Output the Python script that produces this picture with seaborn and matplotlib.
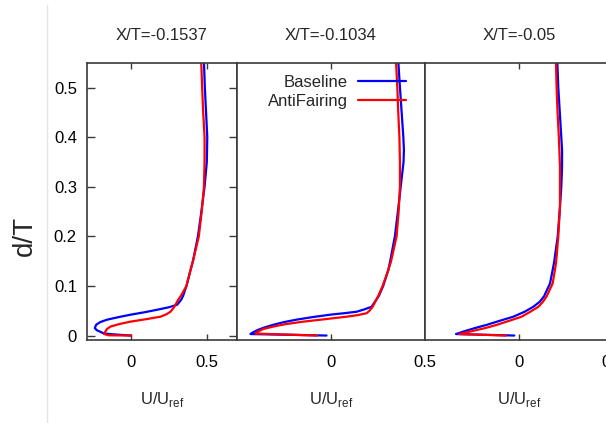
import matplotlib
matplotlib.use("Agg")
import matplotlib.pyplot as plt
from matplotlib.lines import Line2D
import numpy as np
import pandas as pd
import seaborn as sns

# Station titles and series
stations = ["X/T=-0.1537", "X/T=-0.1034", "X/T=-0.05"]
cases = ["Baseline", "AntiFairing"]
colors = {"Baseline": "#0000ff", "AntiFairing": "#ff0000"}
x_ticks = [0, 0.5]
x_tick_labels = ["0", "0.5"]
y_ticks = [0, 0.1, 0.2, 0.3, 0.4, 0.5]
y_tick_labels = ["0", "0.1", "0.2", "0.3", "0.4", "0.5"]

# Station X/T=-0.1537
d_base_1 = [0.56, 0.5, 0.45, 0.4, 0.35, 0.3, 0.25, 0.2, 0.15, 0.132, 0.1, 0.08, 0.072,
            0.062, 0.057, 0.052, 0.047, 0.042, 0.037, 0.032, 0.027, 0.0215, 0.015,
            0.011, 0.007, 0.004, 0.002, 0.0]
u_base_1 = [0.482, 0.489, 0.497, 0.505, 0.502, 0.487, 0.466, 0.443, 0.41, 0.394, 0.367,
            0.345, 0.332, 0.305, 0.25, 0.173, 0.09, -0.004, -0.085, -0.159, -0.205,
            -0.232, -0.24, -0.228, -0.2, -0.18, -0.1, 0.0]
d_anti_1 = [0.56, 0.5, 0.45, 0.4, 0.35, 0.3, 0.25, 0.2, 0.15, 0.132, 0.1, 0.08, 0.072,
            0.062, 0.055, 0.048, 0.043, 0.038, 0.033, 0.028, 0.023, 0.018, 0.013,
            0.008, 0.003, 0.0005, 0.0]
u_anti_1 = [0.464, 0.471, 0.478, 0.487, 0.487, 0.483, 0.468, 0.449, 0.41, 0.394, 0.367,
            0.33, 0.312, 0.294, 0.28, 0.261, 0.235, 0.195, 0.1, -0.004, -0.08, -0.137,
            -0.16, -0.17, -0.178, -0.15, 0.0]

# Station X/T=-0.1034
d_base_2 = [0.56, 0.5, 0.45, 0.4, 0.374, 0.35, 0.3, 0.25, 0.2, 0.15, 0.132, 0.1, 0.08,
            0.058, 0.053, 0.048, 0.045, 0.042, 0.037, 0.032, 0.027, 0.0215, 0.016,
            0.0114, 0.006, 0.003, 0.0]
u_base_2 = [0.357, 0.367, 0.376, 0.385, 0.388, 0.386, 0.371, 0.356, 0.34, 0.315, 0.305,
            0.278, 0.255, 0.216, 0.18, 0.137, 0.07, -0.005, -0.1, -0.183, -0.25, -0.307,
            -0.355, -0.387, -0.415, -0.427, -0.023]
d_anti_2 = [0.56, 0.5, 0.45, 0.4, 0.35, 0.3, 0.25, 0.2, 0.15, 0.132, 0.1, 0.08, 0.058,
            0.05, 0.045, 0.041, 0.038, 0.033, 0.028, 0.023, 0.018, 0.013, 0.008, 0.004,
            0.0]
u_anti_2 = [0.345, 0.353, 0.358, 0.364, 0.367, 0.367, 0.36, 0.349, 0.32, 0.305, 0.275,
            0.252, 0.222, 0.205, 0.19, 0.14, 0.083, -0.03, -0.147, -0.24, -0.307, -0.36,
            -0.387, -0.4, -0.073]

# Station X/T=-0.05
d_base_3 = [0.56, 0.5, 0.45, 0.4, 0.374, 0.34, 0.3, 0.26, 0.2, 0.146, 0.105, 0.079,
            0.068, 0.058, 0.048, 0.038, 0.03, 0.0215, 0.015, 0.008, 0.003, 0.0]
u_base_3 = [0.203, 0.209, 0.217, 0.225, 0.229, 0.229, 0.225, 0.218, 0.206, 0.186, 0.165,
            0.133, 0.11, 0.076, 0.03, -0.03, -0.1, -0.172, -0.235, -0.296, -0.335, -0.025]
d_anti_3 = [0.56, 0.5, 0.45, 0.4, 0.34, 0.3, 0.26, 0.2, 0.146, 0.105, 0.079, 0.068,
            0.058, 0.048, 0.038, 0.03, 0.0215, 0.015, 0.008, 0.003, 0.0]
u_anti_3 = [0.196, 0.2, 0.205, 0.212, 0.218, 0.218, 0.218, 0.209, 0.197, 0.179, 0.147,
            0.127, 0.103, 0.06, 0.014, -0.05, -0.119, -0.18, -0.26, -0.317, -0.069]

profiles = [
    ((d_base_1, u_base_1), (d_anti_1, u_anti_1)),
    ((d_base_2, u_base_2), (d_anti_2, u_anti_2)),
    ((d_base_3, u_base_3), (d_anti_3, u_anti_3)),
]
x_limits = [(-0.29, 0.70), (-0.5, 0.5), (-0.5, 0.5)]

sns.set_style("white")
plt.rcParams["font.family"] = ["Liberation Sans", "DejaVu Sans"]
plt.rcParams["font.size"] = 12

W, H = 606, 423
fig = plt.figure(figsize=(W / 100, H / 100), dpi=100)

top_px, bot_px = 63.3, 340.0
edges = [(87.3, 236.7), (236.7, 425.0), (425.0, 613.0)]
spine_col = "#3a3a3a"

# faint frame line at the left of the canvas
fig.add_artist(Line2D([46.7 / W, 46.7 / W], [0, 1 - 5 / H], transform=fig.transFigure,
                      color="#e4e4e4", lw=1.0))

axes = []
for i, ((l, r), (base, anti), title) in enumerate(zip(edges, profiles, stations)):
    ax = fig.add_axes([l / W, (H - bot_px) / H, (r - l) / W, (bot_px - top_px) / H])
    frames = []
    for case, (d, u) in zip(cases, (base, anti)):
        frames.append(pd.DataFrame({"u": u, "d": d, "case": case,
                                    "order": np.arange(len(d))}))
    df = pd.concat(frames, ignore_index=True)
    sns.lineplot(data=df, x="u", y="d", hue="case", hue_order=cases, palette=colors,
                 sort=False, estimator=None, errorbar=None, lw=1.6, legend=False, ax=ax)
    ax.set_xlim(*x_limits[i])
    ax.set_ylim(-0.009, 0.549)
    ax.set_xticks(x_ticks)
    ax.set_xticklabels(x_tick_labels)
    if i == 0:
        ax.set_yticks(y_ticks)
        ax.set_yticklabels(y_tick_labels)
        ax.tick_params(axis="y", direction="in", length=5.5, width=1.0, colors=spine_col,
                       left=True, right=True, pad=7.5, labelcolor="black", labelsize=12)
    else:
        ax.set_yticks([])
    ax.tick_params(axis="x", direction="in", length=4, width=1.0, colors=spine_col,
                   top=True, bottom=True, pad=11, labelcolor="black", labelsize=12)
    for s in ax.spines.values():
        s.set_color(spine_col)
        s.set_linewidth(1.2)
    ax.set_ylabel("")
    ax.set_xlabel("U/U$_\\mathregular{ref}$", fontsize=12, labelpad=14)
    ax.set_title(title, fontsize=12, pad=17)
    axes.append(ax)

handles = [Line2D([], [], color=colors[c], lw=1.6) for c in cases]
axes[1].legend(handles, cases, loc="upper right", markerfirst=False, frameon=False,
               bbox_to_anchor=(406 / W, 1 - 75 / H), bbox_transform=fig.transFigure,
               borderaxespad=0, borderpad=0, handlelength=2.9, handletextpad=0.6,
               labelspacing=0.22, fontsize=12)

fig.text(25 / W, 1 - 236 / H, "d/T", rotation=90, fontsize=20, ha="center", va="center")

fig.savefig("out.png", dpi=100)
